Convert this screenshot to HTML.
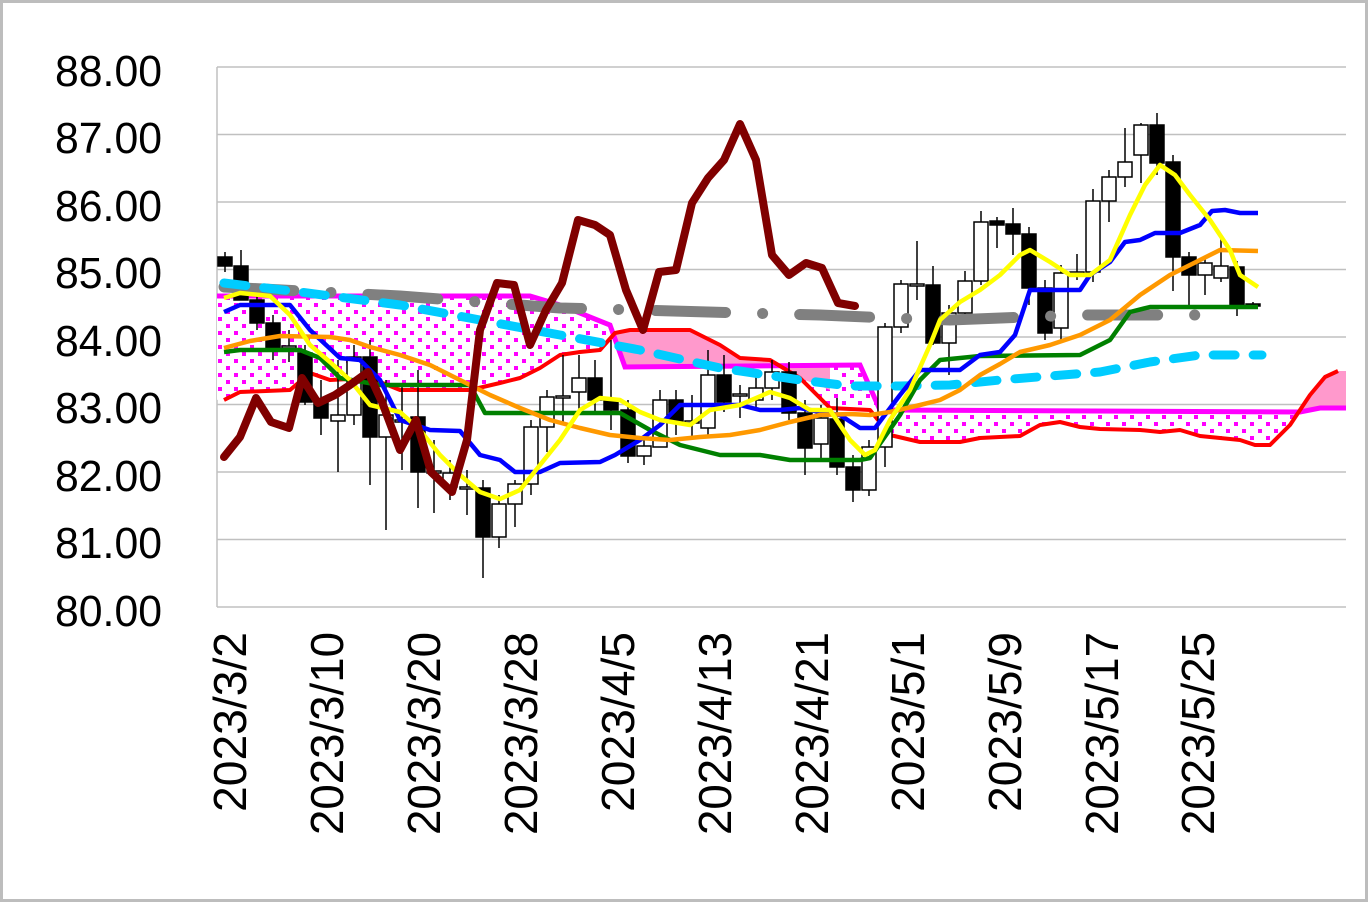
<!DOCTYPE html>
<html><head><meta charset="utf-8"><style>
html,body{margin:0;padding:0;background:#fff}
svg{display:block}
text{font-family:"Liberation Sans",sans-serif;fill:#000}
</style></head><body>
<svg width="1368" height="902" viewBox="0 0 1368 902" xmlns="http://www.w3.org/2000/svg">
<defs>
<pattern id="dots" width="16" height="14" patternUnits="userSpaceOnUse">
<rect width="16" height="14" fill="#fff"/>
<rect x="2" y="2" width="4" height="4" fill="#ff00ff"/>
<rect x="10" y="9" width="4" height="4" fill="#ff00ff"/>
</pattern>
</defs>
<rect x="1.5" y="1.5" width="1365" height="899" fill="#fff" stroke="#bdbdbd" stroke-width="3"/>
<g stroke="#c0c0c0" stroke-width="1.5">
<line x1="217" y1="67" x2="1346" y2="67"/><line x1="217" y1="134.5" x2="1346" y2="134.5"/>
<line x1="217" y1="202" x2="1346" y2="202"/><line x1="217" y1="269.5" x2="1346" y2="269.5"/>
<line x1="217" y1="337" x2="1346" y2="337"/><line x1="217" y1="404.5" x2="1346" y2="404.5"/>
<line x1="217" y1="472" x2="1346" y2="472"/><line x1="217" y1="539.5" x2="1346" y2="539.5"/>
<line x1="217" y1="607" x2="1346" y2="607"/><line x1="217" y1="67" x2="217" y2="607"/>
</g>
<g font-size="44" text-anchor="end">
<text x="162" y="86" textLength="107" lengthAdjust="spacingAndGlyphs">88.00</text>
<text x="162" y="153" textLength="107" lengthAdjust="spacingAndGlyphs">87.00</text>
<text x="162" y="221" textLength="107" lengthAdjust="spacingAndGlyphs">86.00</text>
<text x="162" y="288" textLength="107" lengthAdjust="spacingAndGlyphs">85.00</text>
<text x="162" y="356" textLength="107" lengthAdjust="spacingAndGlyphs">84.00</text>
<text x="162" y="423" textLength="107" lengthAdjust="spacingAndGlyphs">83.00</text>
<text x="162" y="491" textLength="107" lengthAdjust="spacingAndGlyphs">82.00</text>
<text x="162" y="558" textLength="107" lengthAdjust="spacingAndGlyphs">81.00</text>
<text x="162" y="626" textLength="107" lengthAdjust="spacingAndGlyphs">80.00</text>
</g>
<g font-size="46" text-anchor="end">
<text transform="translate(246,632) rotate(-90)" textLength="180" lengthAdjust="spacingAndGlyphs">2023/3/2</text>
<text transform="translate(343,632) rotate(-90)" textLength="203" lengthAdjust="spacingAndGlyphs">2023/3/10</text>
<text transform="translate(440,632) rotate(-90)" textLength="203" lengthAdjust="spacingAndGlyphs">2023/3/20</text>
<text transform="translate(537,632) rotate(-90)" textLength="203" lengthAdjust="spacingAndGlyphs">2023/3/28</text>
<text transform="translate(634,632) rotate(-90)" textLength="180" lengthAdjust="spacingAndGlyphs">2023/4/5</text>
<text transform="translate(731,632) rotate(-90)" textLength="203" lengthAdjust="spacingAndGlyphs">2023/4/13</text>
<text transform="translate(828,632) rotate(-90)" textLength="203" lengthAdjust="spacingAndGlyphs">2023/4/21</text>
<text transform="translate(924,632) rotate(-90)" textLength="180" lengthAdjust="spacingAndGlyphs">2023/5/1</text>
<text transform="translate(1021,632) rotate(-90)" textLength="180" lengthAdjust="spacingAndGlyphs">2023/5/9</text>
<text transform="translate(1118,632) rotate(-90)" textLength="203" lengthAdjust="spacingAndGlyphs">2023/5/17</text>
<text transform="translate(1214,632) rotate(-90)" textLength="203" lengthAdjust="spacingAndGlyphs">2023/5/25</text>
</g>
<!-- cloud -->
<polygon fill="url(#dots)" points="217,296 530,296 560,305 610,325 625,367 860,365 880,410 1300,412 1346,408 1346,371 1338,371 1325,377 1310,395 1290,425 1270,445 1255,445 1240,440 1220,438 1200,436 1180,430 1160,432 1140,430 1100,429 1080,427 1060,422 1040,425 1020,436 980,438 960,442 920,442 890,435 870,410 830,408 800,378 770,360 740,358 720,345 690,330 630,330 615,333 600,350 580,352 560,355 540,368 520,378 500,383 470,390 400,390 370,378 330,380 310,373 290,390 240,392 217,400"/>
<polygon fill="#ff99cc" points="615,333 630,330 690,330 720,345 740,358 770,360 800,378 830,390 830,365 625,367 612,328"/>
<polygon fill="#ff99cc" points="1290,425 1310,395 1325,377 1338,371 1346,371 1346,408 1310,409 1295,412"/>
<polyline fill="none" stroke="#ff00ff" stroke-width="5" points="217,296 530,296 560,305 610,325 625,367 860,365 880,410 1300,412 1320,408 1346,408"/>
<polyline fill="none" stroke="#ff0000" stroke-width="4" stroke-linejoin="round" points="224,400 240,392 290,390 310,373 330,380 370,378 400,390 470,390 500,383 520,378 540,368 560,355 580,352 600,350 615,333 630,330 690,330 720,345 740,358 770,360 800,378 830,408 870,410 890,435 920,442 960,442 980,438 1020,436 1040,425 1060,422 1080,427 1100,429 1140,430 1160,432 1180,430 1200,436 1220,438 1240,440 1255,445 1270,445 1290,425 1310,395 1325,377 1338,371"/>
<!-- candles -->
<g stroke="#000" stroke-width="1.5">
<line x1="225" y1="252" x2="225" y2="272"/><rect x="218" y="257" width="14" height="9" fill="#000"/>
<line x1="241" y1="250" x2="241" y2="300"/><rect x="234" y="266" width="14" height="34" fill="#000"/>
<line x1="257" y1="290" x2="257" y2="330"/><rect x="250" y="300" width="14" height="23" fill="#000"/>
<line x1="273" y1="315" x2="273" y2="360"/><rect x="266" y="323" width="14" height="25" fill="#000"/>
<line x1="289" y1="330" x2="289" y2="362"/><rect x="282" y="346" width="14" height="2" fill="#fff"/>
<line x1="305" y1="345" x2="305" y2="405"/><rect x="298" y="353" width="14" height="49" fill="#000"/>
<line x1="321" y1="380" x2="321" y2="435"/><rect x="314" y="402" width="14" height="16" fill="#000"/>
<line x1="338" y1="360" x2="338" y2="472"/><rect x="331" y="415" width="14" height="6" fill="#fff"/>
<line x1="354" y1="345" x2="354" y2="425"/><rect x="347" y="357" width="14" height="58" fill="#fff"/>
<line x1="370" y1="340" x2="370" y2="485"/><rect x="363" y="357" width="14" height="80" fill="#000"/>
<line x1="386" y1="380" x2="386" y2="530"/><rect x="379" y="415" width="14" height="22" fill="#fff"/>
<line x1="402" y1="385" x2="402" y2="470"/><rect x="395" y="420" width="14" height="2" fill="#fff"/>
<line x1="418" y1="370" x2="418" y2="508"/><rect x="411" y="417" width="14" height="55" fill="#000"/>
<line x1="434" y1="440" x2="434" y2="513"/><rect x="427" y="471" width="14" height="2" fill="#fff"/>
<line x1="450" y1="460" x2="450" y2="500"/><rect x="443" y="473" width="14" height="14" fill="#fff"/>
<line x1="467" y1="470" x2="467" y2="515"/><rect x="460" y="487" width="14" height="2" fill="#fff"/>
<line x1="483" y1="480" x2="483" y2="578"/><rect x="476" y="488" width="14" height="49" fill="#000"/>
<line x1="499" y1="495" x2="499" y2="548"/><rect x="492" y="504" width="14" height="33" fill="#fff"/>
<line x1="515" y1="480" x2="515" y2="527"/><rect x="508" y="484" width="14" height="20" fill="#fff"/>
<line x1="531" y1="420" x2="531" y2="495"/><rect x="524" y="427" width="14" height="57" fill="#fff"/>
<line x1="547" y1="390" x2="547" y2="452"/><rect x="540" y="397" width="14" height="30" fill="#fff"/>
<line x1="563" y1="355" x2="563" y2="425"/><rect x="556" y="396" width="14" height="2" fill="#fff"/>
<line x1="579" y1="355" x2="579" y2="410"/><rect x="572" y="378" width="14" height="14" fill="#fff"/>
<line x1="595" y1="360" x2="595" y2="412"/><rect x="588" y="378" width="14" height="22" fill="#000"/>
<line x1="611" y1="340" x2="611" y2="430"/><rect x="604" y="400" width="14" height="10" fill="#000"/>
<line x1="628" y1="400" x2="628" y2="463"/><rect x="621" y="410" width="14" height="46" fill="#000"/>
<line x1="644" y1="435" x2="644" y2="465"/><rect x="637" y="446" width="14" height="10" fill="#fff"/>
<line x1="660" y1="390" x2="660" y2="445"/><rect x="653" y="400" width="14" height="47" fill="#fff"/>
<line x1="676" y1="390" x2="676" y2="435"/><rect x="669" y="400" width="14" height="22" fill="#000"/>
<line x1="692" y1="395" x2="692" y2="440"/><rect x="685" y="421" width="14" height="2" fill="#fff"/>
<line x1="708" y1="350" x2="708" y2="435"/><rect x="701" y="375" width="14" height="53" fill="#fff"/>
<line x1="724" y1="355" x2="724" y2="412"/><rect x="717" y="375" width="14" height="27" fill="#000"/>
<line x1="740" y1="385" x2="740" y2="418"/><rect x="733" y="394" width="14" height="2" fill="#fff"/>
<line x1="756" y1="375" x2="756" y2="410"/><rect x="749" y="388" width="14" height="12" fill="#fff"/>
<line x1="772" y1="360" x2="772" y2="400"/><rect x="765" y="372" width="14" height="16" fill="#fff"/>
<line x1="789" y1="362" x2="789" y2="420"/><rect x="782" y="372" width="14" height="41" fill="#000"/>
<line x1="805" y1="400" x2="805" y2="475"/><rect x="798" y="413" width="14" height="35" fill="#000"/>
<line x1="821" y1="405" x2="821" y2="460"/><rect x="814" y="418" width="14" height="26" fill="#fff"/>
<line x1="837" y1="398" x2="837" y2="475"/><rect x="830" y="419" width="14" height="48" fill="#000"/>
<line x1="853" y1="455" x2="853" y2="502"/><rect x="846" y="467" width="14" height="23" fill="#000"/>
<line x1="869" y1="440" x2="869" y2="496"/><rect x="862" y="447" width="14" height="43" fill="#fff"/>
<line x1="885" y1="323" x2="885" y2="467"/><rect x="878" y="327" width="14" height="120" fill="#fff"/>
<line x1="901" y1="280" x2="901" y2="333"/><rect x="894" y="284" width="14" height="43" fill="#fff"/>
<line x1="917" y1="241" x2="917" y2="300"/><rect x="910" y="284" width="14" height="2" fill="#fff"/>
<line x1="933" y1="266" x2="933" y2="345"/><rect x="926" y="285" width="14" height="58" fill="#000"/>
<line x1="949" y1="305" x2="949" y2="375"/><rect x="942" y="313" width="14" height="30" fill="#fff"/>
<line x1="965" y1="271" x2="965" y2="320"/><rect x="958" y="281" width="14" height="32" fill="#fff"/>
<line x1="981" y1="211" x2="981" y2="285"/><rect x="974" y="222" width="14" height="59" fill="#fff"/>
<line x1="997" y1="217" x2="997" y2="248"/><rect x="990" y="221" width="14" height="4" fill="#000"/>
<line x1="1013" y1="208" x2="1013" y2="255"/><rect x="1006" y="224" width="14" height="10" fill="#000"/>
<line x1="1029" y1="227" x2="1029" y2="305"/><rect x="1022" y="234" width="14" height="54" fill="#000"/>
<line x1="1045" y1="280" x2="1045" y2="340"/><rect x="1038" y="288" width="14" height="45" fill="#000"/>
<line x1="1061" y1="265" x2="1061" y2="342"/><rect x="1054" y="273" width="14" height="55" fill="#fff"/>
<line x1="1077" y1="254" x2="1077" y2="280"/><rect x="1070" y="272" width="14" height="2" fill="#fff"/>
<line x1="1093" y1="189" x2="1093" y2="282"/><rect x="1086" y="201" width="14" height="71" fill="#fff"/>
<line x1="1109" y1="170" x2="1109" y2="222"/><rect x="1102" y="177" width="14" height="24" fill="#fff"/>
<line x1="1125" y1="128" x2="1125" y2="187"/><rect x="1118" y="162" width="14" height="15" fill="#fff"/>
<line x1="1141" y1="123" x2="1141" y2="183"/><rect x="1134" y="125" width="14" height="30" fill="#fff"/>
<line x1="1157" y1="113" x2="1157" y2="175"/><rect x="1150" y="125" width="14" height="38" fill="#000"/>
<line x1="1173" y1="155" x2="1173" y2="291"/><rect x="1166" y="162" width="14" height="95" fill="#000"/>
<line x1="1189" y1="252" x2="1189" y2="305"/><rect x="1182" y="257" width="14" height="18" fill="#000"/>
<line x1="1205" y1="258" x2="1205" y2="295"/><rect x="1198" y="263" width="14" height="12" fill="#fff"/>
<line x1="1221" y1="238" x2="1221" y2="282"/><rect x="1214" y="266" width="14" height="12" fill="#fff"/>
<line x1="1237" y1="261" x2="1237" y2="316"/><rect x="1230" y="267" width="14" height="38" fill="#000"/>
<line x1="1253" y1="302" x2="1253" y2="308"/><rect x="1246" y="304" width="14" height="2" fill="#000"/>
</g>
<!-- lines -->
<g fill="none" stroke-linejoin="round">
<polyline stroke="#808080" stroke-width="11" stroke-linecap="round" stroke-dasharray="70 37 0.1 37" points="224,287 400,296 560,308 640,310 745,313 820,315 890,318 950,320 1080,315 1230,315"/>
<polyline stroke="#00ccff" stroke-width="9" stroke-linecap="round" stroke-dasharray="22 18" points="224,283 300,292 400,305 480,320 560,335 640,350 720,368 800,380 850,386 900,386 950,385 1000,380 1050,376 1100,372 1150,362 1200,355 1262,355"/>
<polyline stroke="#008000" stroke-width="4.5" points="224,352 240,350 300,350 320,358 340,378 380,385 470,385 485,413 540,413 620,413 650,430 680,445 720,455 760,455 790,460 860,460 870,458 900,415 920,380 940,360 980,356 1080,355 1100,345 1110,340 1130,312 1150,307 1258,307"/>
<polyline stroke="#0000ff" stroke-width="4.5" points="224,312 240,305 290,305 310,330 340,358 360,360 380,380 400,420 430,430 460,431 480,455 500,460 515,472 540,472 560,463 600,462 615,455 640,440 660,425 680,405 700,405 740,405 760,410 780,410 800,408 820,412 840,415 860,428 875,428 900,395 920,370 960,370 980,355 1000,352 1015,335 1030,290 1080,290 1090,275 1110,262 1125,242 1140,240 1155,233 1180,233 1200,225 1212,211 1225,210 1240,213 1258,213"/>
<polyline stroke="#ff9900" stroke-width="4.5" points="224,348 250,341 280,336 330,337 350,340 370,347 400,355 430,365 460,380 490,395 520,408 550,420 580,428 610,435 640,438 670,440 700,437 730,435 760,430 790,422 820,415 850,414 870,415 890,412 920,405 940,400 960,390 980,375 1000,364 1020,352 1050,345 1080,335 1110,320 1140,295 1170,275 1200,260 1220,250 1258,251"/>
<polyline stroke="#ffff00" stroke-width="4.5" points="224,298 240,293 270,296 290,315 310,345 330,362 350,380 370,405 400,412 420,430 440,455 460,475 480,492 500,499 520,490 540,465 560,440 580,410 600,398 620,400 640,412 660,420 690,425 710,410 740,405 770,392 790,398 810,410 830,410 850,440 865,455 875,450 890,420 910,390 930,345 940,320 960,302 980,290 1000,275 1020,255 1030,250 1050,262 1070,275 1090,275 1110,260 1130,215 1145,185 1160,165 1175,175 1190,195 1210,220 1230,250 1240,275 1258,287"/>
<polyline stroke="#800000" stroke-width="8" stroke-linecap="round" points="224,457 240,437 256,398 271,422 289,428 302,378 318,403 335,395 350,385 368,372 382,402 400,450 416,420 431,472 452,492 467,440 480,330 497,283 514,285 530,345 546,310 562,283 578,220 595,225 610,235 626,290 643,330 659,272 676,270 692,203 708,178 724,160 740,124 756,160 772,255 789,275 806,263 822,268 838,303 855,306"/>
</g>
</svg>
</body></html>
